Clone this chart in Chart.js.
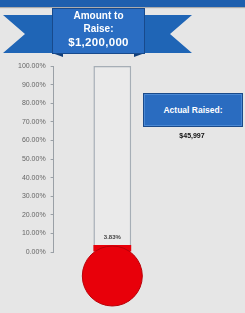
<!DOCTYPE html>
<html>
<head>
<meta charset="utf-8">
<script src="https://cdn.jsdelivr.net/npm/chart.js@4.4.1/dist/chart.umd.min.js"></script>
<style>
  html, body { margin: 0; padding: 0; background: #e6e6e6; }
  #wrap { position: relative; width: 245px; height: 313px; overflow: hidden; font-family: 'Liberation Sans', Arial, sans-serif; }
  #topbar { position: absolute; left: 0; top: 0; width: 245px; height: 7px; background: #1e5fae; box-shadow: 0 1px 1px rgba(0,0,0,0.25); }
  #ribbon { position: absolute; left: 0; top: 0; }
  #goalText { position: absolute; left: 52px; top: 9px; width: 93px; text-align: center; color: #fff; font-weight: bold; }
  #goalText .l { font-size: 10px; line-height: 13px; }
  #goalText .amt { font-size: 11.5px; line-height: 14px; letter-spacing: 0.3px; }
  #raisedBox { position: absolute; left: 143px; top: 93px; width: 98px; height: 32px; background: #2a6cc0; border: 1px solid #1a4a8a; box-shadow: inset 0 0 0 1px #4a88d4; color: #fff; font-size: 8.5px; font-weight: bold; text-align: center; line-height: 32px; }
  #raisedVal { position: absolute; left: 143px; top: 132px; width: 98px; text-align: center; font-size: 7px; font-weight: bold; color: #111; }
  canvas { position: absolute; left: 0; top: 0; }
</style>
</head>
<body>
<div id="wrap">
  <canvas id="thermo" width="245" height="313"></canvas>
  <div id="topbar"></div>
  <svg id="ribbon" width="245" height="62">
    <polygon points="3,15 62,15 62,53 3,53 25,34" fill="#1f65b6"/>
    <polygon points="136,15 192,15 170,34 192,53 136,53" fill="#1f65b6"/>
    <polygon points="52,53 63,53 63,57" fill="#123f7a"/>
    <polygon points="145,53 134,53 134,57" fill="#123f7a"/>
    <rect x="52.5" y="8.5" width="92" height="45" fill="#2a6dc2" stroke="#184a8c" stroke-width="1"/>
  </svg>
  <div id="goalText">
    <div class="l">Amount to</div>
    <div class="l">Raise:</div>
    <div class="amt" id="goalAmt"></div>
  </div>
  <div id="raisedBox">Actual Raised:</div>
  <div id="raisedVal"></div>
</div>
<script>
// data
const categories = ['Progress'];
const goalPct = [100];
const raisedPct = [3.83];
const yTicks = [0, 10, 20, 30, 40, 50, 60, 70, 80, 90, 100];
const goalAmount = 1200000;
const raisedAmount = 45997;

document.getElementById('goalAmt').textContent = '$' + goalAmount.toLocaleString('en-US');
document.getElementById('raisedVal').textContent = '$' + raisedAmount.toLocaleString('en-US');

// bulb + percentage label under/over the bar
const bulbPlugin = {
  id: 'bulb',
  afterDatasetsDraw(chart) {
    const ctx = chart.ctx;
    const yScale = chart.scales.y;
    const bar = chart.getDatasetMeta(0).data[0];
    const y0 = yScale.getPixelForValue(0);

    ctx.save();
    ctx.beginPath();
    ctx.arc(bar.x, y0 + 24, 30, 0, Math.PI * 2);
    ctx.fillStyle = '#e8000a';
    ctx.fill();
    ctx.lineWidth = 1;
    ctx.strokeStyle = '#b80008';
    ctx.stroke();

    ctx.font = 'bold 6px "Liberation Sans", Arial, sans-serif';
    ctx.fillStyle = '#444';
    ctx.textAlign = 'center';
    ctx.textBaseline = 'middle';
    ctx.fillText(raisedPct[0].toFixed(2) + '%', bar.x, bar.y - 8);
    ctx.restore();
  }
};

new Chart(document.getElementById('thermo'), {
  type: 'bar',
  data: {
    labels: categories,
    datasets: [
      {
        data: raisedPct,
        backgroundColor: '#e8000a',
        borderWidth: 0,
        grouped: false,
        barPercentage: 0.322,
        categoryPercentage: 1
      },
      {
        data: goalPct,
        backgroundColor: '#eaeaea',
        borderColor: '#a6aeb6',
        borderWidth: 1.5,
        grouped: false,
        barPercentage: 0.322,
        categoryPercentage: 1
      }
    ]
  },
  options: {
    responsive: false,
    animation: false,
    devicePixelRatio: 1,
    layout: { padding: { left: 13, top: 66, right: 74, bottom: 61 } },
    plugins: { legend: { display: false }, tooltip: { enabled: false } },
    scales: {
      x: { display: false },
      y: {
        min: 0,
        max: 100,
        afterBuildTicks: axis => { axis.ticks = yTicks.map(v => ({ value: v })); },
        ticks: {
          callback: v => v.toFixed(2) + '%',
          color: '#666',
          font: { size: 7, family: '"Liberation Sans", Arial, sans-serif' },
          padding: 5
        },
        grid: { drawOnChartArea: false, tickLength: 3, color: '#9aa0a6' },
        border: { display: true, color: '#9aa0a6' }
      }
    }
  },
  plugins: [bulbPlugin]
});
</script>
</body>
</html>
